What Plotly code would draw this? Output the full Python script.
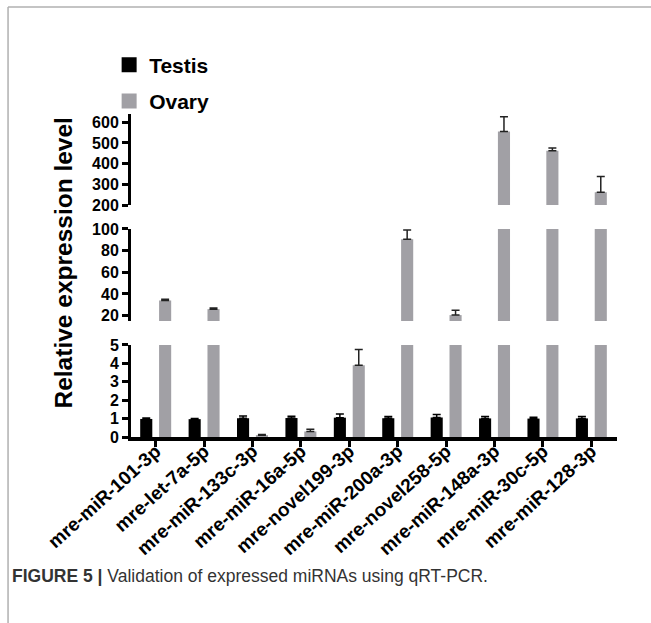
import plotly.graph_objects as go

categories = ["mre-miR-101-3p", "mre-let-7a-5p", "mre-miR-133c-3p", "mre-miR-16a-5p",
              "mre-novel199-3p", "mre-miR-200a-3p", "mre-novel258-5p", "mre-miR-148a-3p",
              "mre-miR-30c-5p", "mre-miR-128-3p"]
testis = [0.98, 0.97, 1.02, 1.03, 1.05, 1.02, 1.06, 1.01, 1.00, 1.01]
testis_err = [0.05, 0.03, 0.12, 0.10, 0.20, 0.10, 0.16, 0.10, 0.07, 0.10]
ovary = [34, 26, 0.10, 0.30, 3.9, 90.5, 20.5, 555, 462, 262]
ovary_err = [1.2, 1.0, 0.03, 0.12, 0.85, 8.5, 4.5, 72, 14, 76]

FONT = "Liberation Sans, Arial, sans-serif"
GRAY = "#a1a0a5"
xpos = list(range(len(categories)))

fig = go.Figure()
axes = ["y", "y2", "y3"]
for ax in axes:
    fig.add_trace(go.Bar(
        x=xpos, y=testis, yaxis=ax, width=0.25, offset=-0.32,
        marker=dict(color="black", line=dict(width=0)), showlegend=False,
        error_y=dict(type="data", symmetric=False, array=testis_err,
                     arrayminus=[0] * len(testis), color="black", thickness=1.5, width=4)))
    fig.add_trace(go.Bar(
        x=xpos, y=ovary, yaxis=ax, width=0.25, offset=0.07,
        marker=dict(color=GRAY, line=dict(width=0)), showlegend=False,
        error_y=dict(type="data", symmetric=False, array=ovary_err,
                     arrayminus=[0] * len(ovary), color="#222222", thickness=1.5, width=4)))

# legend entries
fig.add_trace(go.Scatter(x=[None], y=[None], mode="markers", name="Testis",
                         marker=dict(symbol="square", size=15, color="black"), legendgroup="a"))
fig.add_trace(go.Scatter(x=[None], y=[None], mode="markers", name="Ovary",
                         marker=dict(symbol="square", size=15, color=GRAY), legendgroup="b"))

yax_common = dict(showline=True, linewidth=3, linecolor="black", ticks="outside",
                  ticklen=6, tickwidth=2.5, tickcolor="black", showgrid=False, zeroline=False,
                  anchor="x", tickfont=dict(family=FONT, size=16, color="black", weight="bold"))

fig.update_layout(
    width=651, height=623,
    margin=dict(l=131, r=34, t=114, b=186),
    plot_bgcolor="white", paper_bgcolor="white",
    barmode="overlay",
    xaxis=dict(range=[-0.51, 9.53], tickvals=xpos, ticktext=categories, tickangle=-42,
               showline=True, linewidth=3.5, linecolor="black", ticks="outside",
               ticklen=6, tickwidth=2.5, tickcolor="black", showgrid=False, zeroline=False,
               ticklabelstandoff=-14,
               tickfont=dict(family=FONT, size=19, color="black", weight="bold")),
    yaxis=dict(domain=[0, 0.285], range=[0, 5], tickvals=[0, 1, 2, 3, 4, 5], **yax_common),
    yaxis2=dict(domain=[0.359, 0.644], range=[15, 100], tickvals=[20, 40, 60, 80, 100], **yax_common),
    yaxis3=dict(domain=[0.718, 1], range=[200, 640], tickvals=[200, 300, 400, 500, 600], **yax_common),
    legend=dict(x=-0.045, y=1.215, xanchor="left", yanchor="top", tracegroupgap=6,
                font=dict(family=FONT, size=21, color="black", weight="bold"),
                bgcolor="rgba(0,0,0,0)"),
    showlegend=True,
)

fig.add_annotation(text="<b>Relative expression level</b>", xref="paper", yref="paper",
                   x=-0.138, y=0.54, xanchor="center", yanchor="middle", textangle=-90,
                   showarrow=False, font=dict(family=FONT, size=24.5, color="black"))
fig.add_annotation(text="<b>FIGURE 5 |</b> Validation of expressed miRNAs using qRT-PCR.",
                   xref="paper", yref="paper", x=-0.249, y=-0.43, xanchor="left",
                   yanchor="middle", showarrow=False,
                   font=dict(family=FONT, size=17.5, color="#333333"))

# frame lines
fig.add_shape(type="line", xref="paper", yref="paper", x0=-0.253, x1=1.08, y0=1.331, y1=1.331,
              line=dict(color="#b0b0b0", width=1.5))
fig.add_shape(type="line", xref="paper", yref="paper", x0=-0.253, x1=-0.253, y0=1.331, y1=-0.6,
              line=dict(color="#b0b0b0", width=1.5))

fig.write_html("out.html", config={"displayModeBar": False},
               post_script="document.body.style.margin='0px';")
